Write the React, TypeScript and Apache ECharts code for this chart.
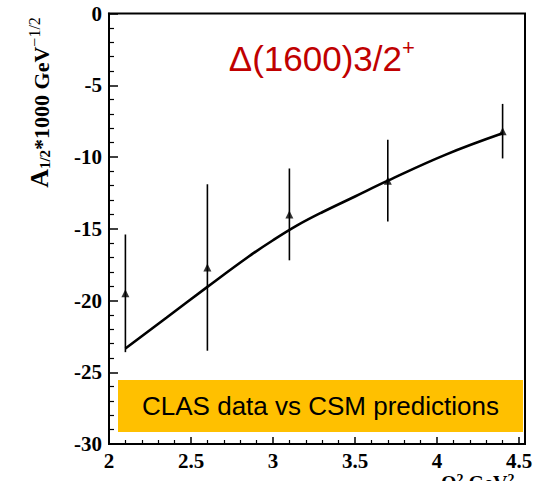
import React, { useEffect, useRef } from "react";
import * as echarts from "echarts";

// Measured data points (Q^2 in GeV^2, A1/2 * 1000 GeV^-1/2)
const q2Points = [2.1, 2.6, 3.1, 3.7, 4.4];
const a12Values = [-19.5, -17.7, -14.0, -11.65, -8.2];
const a12Errors = [4.1, 5.8, 3.2, 2.85, 1.9];

// CSM prediction curve
const csmQ2 = [2.1, 2.35, 2.6, 2.85, 3.0, 3.15, 3.3, 3.5, 3.7, 4.05, 4.4];
const csmA12 = [-23.35, -21.2, -19.05, -16.95, -15.8, -14.75, -13.85, -12.75, -11.65, -9.85, -8.35];

const xTickMin = 2;
const xTickMax = 4.5;
const xTickStep = 0.5;
const yTickMin = -30;
const yTickMax = 0;
const yTickStep = 5;

const titleMain = "Δ(1600)3/2";
const titleSup = "+";
const bannerText = "CLAS data vs CSM predictions";

const SERIF = "'Liberation Serif', 'Times New Roman', serif";
const SANS = "'Liberation Sans', Arial, sans-serif";

export default function App() {
  const ref = useRef<HTMLDivElement>(null);

  useEffect(() => {
    if (!ref.current) return;
    const chart = echarts.init(ref.current, null, { renderer: "svg" });

    const points = q2Points.map((x, i) => [x, a12Values[i]]);
    const bars = q2Points.map((x, i) => [x, a12Values[i] - a12Errors[i], a12Values[i] + a12Errors[i]]);
    const curve = csmQ2.map((x, i) => [x, csmA12[i]]);

    const labelStyle = {
      color: "#000",
      fontFamily: SERIF,
      fontWeight: "bold" as const,
      fontSize: 21,
    };

    chart.setOption({
      animation: false,
      backgroundColor: "#fff",
      grid: {
        left: 109,
        top: 13.5,
        width: 410,
        height: 430.5,
        containLabel: false,
        outerBoundsMode: "none",
      },
      xAxis: {
        type: "value",
        min: xTickMin,
        max: xTickMax,
        interval: xTickStep,
        axisLine: { show: true, onZero: false, lineStyle: { color: "#000", width: 2 } },
        axisTick: { show: true, inside: true, length: 7, lineStyle: { color: "#000", width: 1.5 } },
        minorTick: { show: true, splitNumber: 5, length: 4, lineStyle: { color: "#000", width: 1.2 } },
        splitLine: { show: false },
        axisLabel: { ...labelStyle, margin: 6 },
      },
      yAxis: {
        type: "value",
        min: yTickMin,
        max: yTickMax,
        interval: yTickStep,
        axisLine: { show: true, onZero: false, lineStyle: { color: "#000", width: 2 } },
        axisTick: { show: true, inside: true, length: 9, lineStyle: { color: "#000", width: 1.5 } },
        minorTick: { show: true, splitNumber: 5, length: 5, lineStyle: { color: "#000", width: 1.2 } },
        splitLine: { show: false },
        axisLabel: { ...labelStyle, margin: 7 },
      },
      series: [
        {
          type: "line",
          data: curve,
          smooth: 0.4,
          showSymbol: false,
          symbol: "none",
          lineStyle: { color: "#000", width: 2.6 },
          z: 3,
        },
        {
          type: "custom",
          data: bars,
          renderItem: (params: any, api: any) => {
            const x = api.value(0);
            const p1 = api.coord([x, api.value(1)]);
            const p2 = api.coord([x, api.value(2)]);
            return {
              type: "line",
              shape: { x1: p1[0], y1: p1[1], x2: p2[0], y2: p2[1] },
              style: { stroke: "#000", lineWidth: 1.6 },
            };
          },
          z: 4,
        },
        {
          type: "scatter",
          data: points,
          symbol: "triangle",
          symbolSize: 8,
          itemStyle: { color: "#000" },
          z: 5,
        },
      ],
      graphic: [
        {
          type: "rect",
          z: 10,
          shape: { x: 109, y: 13.5, width: 416, height: 430.5 },
          style: { fill: "none", stroke: "#000", lineWidth: 2 },
        },
        {
          type: "rect",
          z: 9,
          shape: { x: 118, y: 380, width: 405, height: 52 },
          style: { fill: "#FFC000" },
        },
        {
          type: "text",
          z: 11,
          x: 320.5,
          y: 406,
          style: {
            text: bannerText,
            fontFamily: SANS,
            fontSize: 26,
            fill: "#000",
            align: "center",
            verticalAlign: "middle",
          },
        },
        {
          type: "text",
          z: 11,
          x: 402,
          y: 58,
          style: {
            text: titleMain,
            fontFamily: SANS,
            fontSize: 35,
            fill: "#C00000",
            align: "right",
            verticalAlign: "middle",
          },
        },
        {
          type: "text",
          z: 11,
          x: 402,
          y: 47,
          style: {
            text: titleSup,
            fontFamily: SANS,
            fontSize: 22,
            fill: "#C00000",
            align: "left",
            verticalAlign: "middle",
          },
        },
        {
          type: "text",
          z: 11,
          x: 39,
          y: 102.5,
          rotation: Math.PI / 2,
          style: {
            text: "{a|A}{b|1/2}{c|*1000 GeV}{d|−1/2}",
            align: "center",
            verticalAlign: "middle",
            fill: "#000",
            rich: {
              a: { fontFamily: SERIF, fontWeight: "bold", fontSize: 26, lineHeight: 26, verticalAlign: "bottom", fill: "#000" },
              b: { fontFamily: SERIF, fontWeight: "bold", fontSize: 15, lineHeight: 7, verticalAlign: "bottom", fill: "#000" },
              c: { fontFamily: SERIF, fontWeight: "bold", fontSize: 22, lineHeight: 22, verticalAlign: "bottom", fill: "#000" },
              d: { fontFamily: SERIF, fontWeight: "normal", fontSize: 16, lineHeight: 16, verticalAlign: "top", fill: "#000" },
            },
          },
        },
        {
          type: "text",
          z: 11,
          x: 441,
          y: 472.5,
          style: {
            text: "{m|Q}{s|2}{m| GeV}{s|2}",
            align: "left",
            verticalAlign: "top",
            fill: "#000",
            rich: {
              m: { fontFamily: SERIF, fontWeight: "bold", fontSize: 20, lineHeight: 20, verticalAlign: "bottom", fill: "#000" },
              s: { fontFamily: SERIF, fontWeight: "bold", fontSize: 14, lineHeight: 14, verticalAlign: "top", fill: "#000" },
            },
          },
        },
      ],
    });

    return () => chart.dispose();
  }, []);

  return (
    <div
      ref={ref}
      style={{ position: "fixed", left: 0, top: 0, width: 542, height: 481 }}
    />
  );
}
